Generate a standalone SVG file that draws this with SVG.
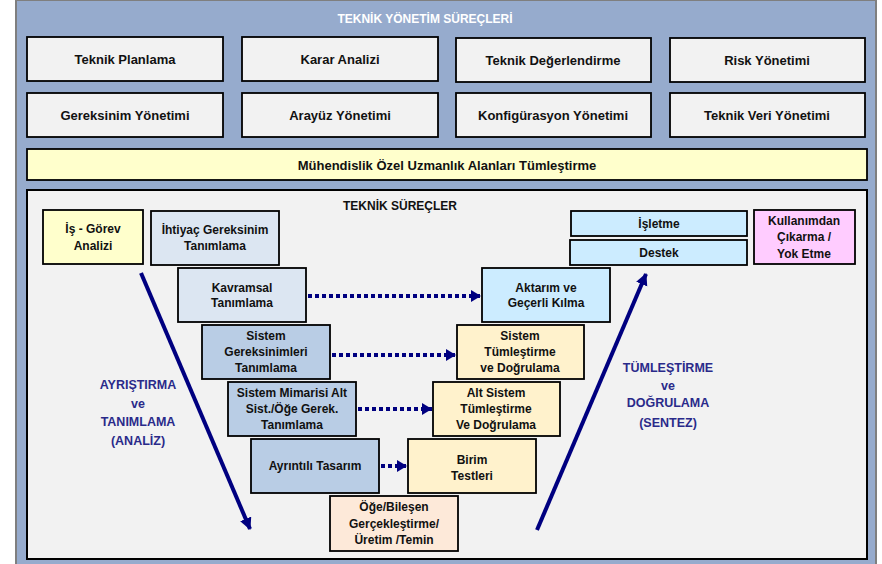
<svg xmlns="http://www.w3.org/2000/svg" width="882" height="564" viewBox="0 0 882 564">
  <style>
    .box { stroke: #000; stroke-width: 1.8; }
    .gray { fill: #f2f2f2; }
    .yel { fill: #ffffcc; }
    .lblue { fill: #dce6f2; }
    .mblue { fill: #b9cde5; }
    .cyan { fill: #ccecff; }
    .pink { fill: #ffccff; }
    .cream { fill: #fff2cc; }
    .peach { fill: #fde9d9; }
    text { font-family: "Liberation Sans", Arial, sans-serif; font-weight: bold; font-size: 12px; fill: #111; text-anchor: middle; }
    .top text { font-size: 13px; }
    .head { fill: #fff; }
    .phase { fill: #2a2a8a; font-size: 12.5px; }
    .dot { stroke: #000080; stroke-width: 4; stroke-dasharray: 4 3; fill: none; }
    .big { stroke: #000080; stroke-width: 4; fill: none; }
  </style>
  <defs>
    <marker id="tip" markerUnits="userSpaceOnUse" markerWidth="12" markerHeight="14" refX="10" refY="6" orient="auto">
      <path d="M0,0 L10,6 L0,12 Z" fill="#000080"/>
    </marker>
    <marker id="bigtip" markerUnits="userSpaceOnUse" markerWidth="14" markerHeight="14" refX="11" refY="6" orient="auto">
      <path d="M0,0 L12,6 L0,12 Z" fill="#000080"/>
    </marker>
  </defs>

  <!-- outer management panel -->
  <rect x="16" y="0" width="860" height="566" fill="#96abcd" stroke="#7f7f7f" stroke-width="2"/>
  <text class="head" x="425" y="23">TEKNİK YÖNETİM SÜREÇLERİ</text>

  <g class="top">
    <g id="teknik-planlama"><rect class="box gray" x="27" y="37" width="196" height="44"/><text x="125" y="64">Teknik Planlama</text></g>
    <g id="karar-analizi"><rect class="box gray" x="242" y="37" width="196" height="44"/><text x="340" y="64">Karar Analizi</text></g>
    <g id="teknik-degerlendirme"><rect class="box gray" x="456" y="38" width="195" height="44"/><text x="553" y="65">Teknik Değerlendirme</text></g>
    <g id="risk-yonetimi"><rect class="box gray" x="670" y="38" width="195" height="44"/><text x="767" y="65">Risk Yönetimi</text></g>

    <g id="gereksinim-yonetimi"><rect class="box gray" x="27" y="93" width="196" height="44"/><text x="125" y="120">Gereksinim Yönetimi</text></g>
    <g id="arayuz-yonetimi"><rect class="box gray" x="242" y="93" width="196" height="44"/><text x="340" y="120">Arayüz Yönetimi</text></g>
    <g id="konfigurasyon-yonetimi"><rect class="box gray" x="456" y="93" width="195" height="44"/><text x="553" y="120">Konfigürasyon Yönetimi</text></g>
    <g id="teknik-veri-yonetimi"><rect class="box gray" x="670" y="93" width="195" height="44"/><text x="767" y="120">Teknik Veri Yönetimi</text></g>

    <g id="muhendislik"><rect class="box yel" x="27" y="149" width="840" height="31"/><text x="447" y="170">Mühendislik Özel Uzmanlık Alanları Tümleştirme</text></g>
  </g>

  <!-- technical processes panel -->
  <rect x="27" y="190" width="840" height="369" fill="#f2f2f2" stroke="#000" stroke-width="2"/>
  <text x="400" y="210">TEKNİK SÜREÇLER</text>

  <g id="is-gorev"><rect class="box yel" x="43" y="210" width="100" height="54"/><text x="93" y="233">İş - Görev</text><text x="93" y="250">Analizi</text></g>
  <g id="ihtiyac"><rect class="box lblue" x="151" y="211" width="128" height="54"/><text x="215" y="234">İhtiyaç Gereksinim</text><text x="215" y="250">Tanımlama</text></g>
  <g id="kavramsal"><rect class="box lblue" x="178" y="268" width="128" height="54"/><text x="242" y="292">Kavramsal</text><text x="242" y="307">Tanımlama</text></g>
  <g id="sistem-gereksinimleri"><rect class="box mblue" x="202" y="325" width="128" height="54"/><text x="266" y="340">Sistem</text><text x="266" y="356">Gereksinimleri</text><text x="266" y="372">Tanımlama</text></g>
  <g id="sistem-mimarisi"><rect class="box mblue" x="228" y="382" width="128" height="54"/><text x="292" y="397">Sistem Mimarisi Alt</text><text x="292" y="413">Sist./Öğe Gerek.</text><text x="292" y="429">Tanımlama</text></g>
  <g id="ayrintili-tasarim"><rect class="box mblue" x="251" y="439" width="128" height="54"/><text x="315" y="470">Ayrıntılı Tasarım</text></g>
  <g id="oge-bilesen"><rect class="box peach" x="330" y="496" width="128" height="55"/><text x="394" y="511">Öğe/Bileşen</text><text x="394" y="528">Gerçekleştirme/</text><text x="394" y="544">Üretim /Temin</text></g>

  <g id="isletme"><rect class="box cyan" x="571" y="211" width="176" height="25"/><text x="659" y="228">İşletme</text></g>
  <g id="destek"><rect class="box cyan" x="570" y="240" width="177" height="25"/><text x="659" y="257">Destek</text></g>
  <g id="kullanimdan"><rect class="box pink" x="754" y="210" width="101" height="54"/><text x="804" y="225">Kullanımdan</text><text x="804" y="241">Çıkarma /</text><text x="804" y="258">Yok Etme</text></g>
  <g id="aktarim"><rect class="box cyan" x="482" y="268" width="128" height="54"/><text x="546" y="292">Aktarım ve</text><text x="546" y="307">Geçerli Kılma</text></g>
  <g id="sistem-tumlestirme"><rect class="box cream" x="457" y="325" width="127" height="54"/><text x="520" y="340">Sistem</text><text x="520" y="356">Tümleştirme</text><text x="520" y="372">ve Doğrulama</text></g>
  <g id="alt-sistem"><rect class="box cream" x="433" y="382" width="127" height="54"/><text x="496" y="397">Alt Sistem</text><text x="496" y="413">Tümleştirme</text><text x="496" y="429">Ve Doğrulama</text></g>
  <g id="birim-testleri"><rect class="box cream" x="408" y="439" width="128" height="54"/><text x="472" y="464">Birim</text><text x="472" y="480">Testleri</text></g>

  <g id="phase-labels">
    <text class="phase" x="138" y="389">AYRIŞTIRMA</text>
    <text class="phase" x="138" y="408">ve</text>
    <text class="phase" x="138" y="426">TANIMLAMA</text>
    <text class="phase" x="138" y="445">(ANALİZ)</text>
    <text class="phase" x="668" y="372">TÜMLEŞTİRME</text>
    <text class="phase" x="668" y="390">ve</text>
    <text class="phase" x="668" y="407">DOĞRULAMA</text>
    <text class="phase" x="668" y="427">(SENTEZ)</text>
  </g>

  <g id="connectors">
    <line class="dot" x1="308" y1="296" x2="481" y2="296" marker-end="url(#tip)"/>
    <line class="dot" x1="332" y1="355" x2="456" y2="355" marker-end="url(#tip)"/>
    <line class="dot" x1="358" y1="409" x2="432" y2="409" marker-end="url(#tip)"/>
    <line class="dot" x1="381" y1="466" x2="407" y2="466" marker-end="url(#tip)"/>
    <line class="big" x1="141" y1="273" x2="250" y2="529" marker-end="url(#bigtip)"/>
    <line class="big" x1="537" y1="530" x2="646" y2="274" marker-end="url(#bigtip)"/>
  </g>
</svg>
